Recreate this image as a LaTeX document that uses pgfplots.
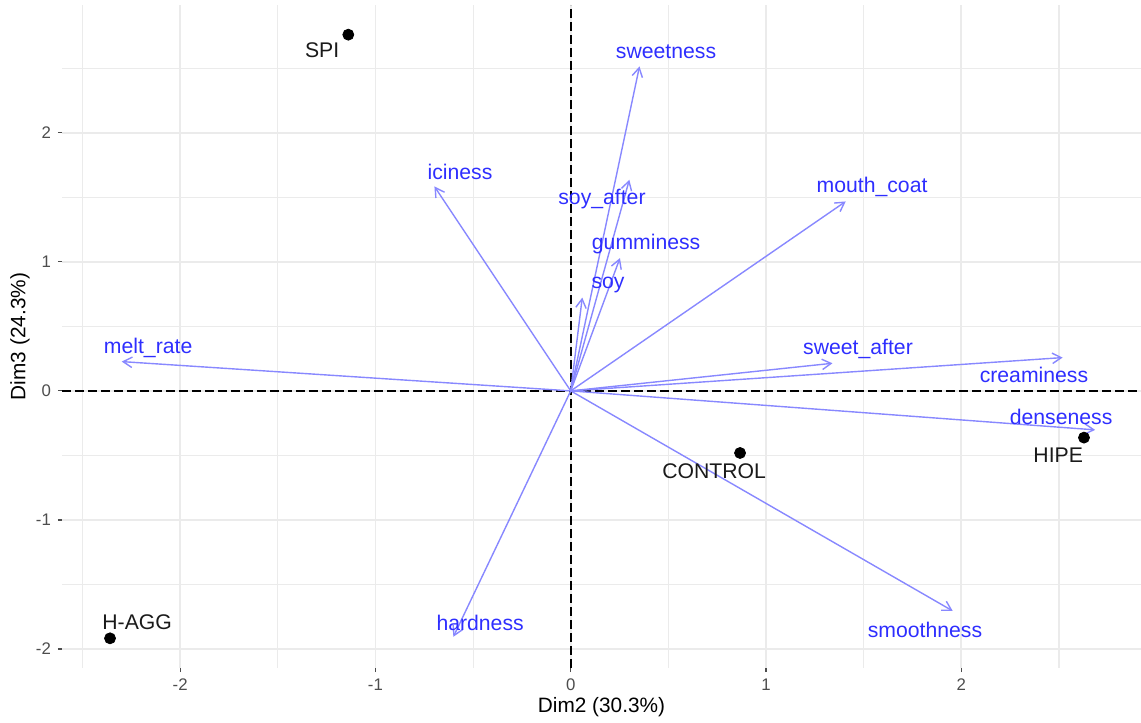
\documentclass[border=0pt]{standalone}
\usepackage{fontspec}
\setmainfont{Liberation Sans}
\usepackage{pgfplots}
\pgfplotsset{compat=1.18}
\usepackage{pgfplotstable}
\usetikzlibrary{arrows.meta}

\definecolor{gridc}{HTML}{EBEBEB}
\definecolor{varline}{HTML}{8888FF}
\definecolor{vartext}{HTML}{2E2EFF}
\definecolor{tickc}{HTML}{4D4D4D}
\definecolor{indtext}{HTML}{1A1A1A}

% individuals: point coordinates, label position, name
\pgfplotstableread{
x y lx ly name
-1.139 2.760 -1.273 2.643 SPI
-2.359 -1.917 -2.220 -1.791 H-AGG
0.867 -0.481 0.734 -0.620 CONTROL
2.628 -0.362 2.496 -0.496 HIPE
}\individuals

% variables: arrow tip, label position, name
\pgfplotstableread{
x y lx ly name
0.352 2.514 0.488 2.628 sweetness
-0.698 1.584 -0.567 1.698 iciness
0.300 1.636 0.160 1.488 {soy\_after}
0.252 1.029 0.386 1.140 gumminess
0.059 0.723 0.191 0.822 soy
1.408 1.468 1.543 1.581 {mouth\_coat}
-2.299 0.227 -2.164 0.333 {melt\_rate}
1.340 0.214 1.471 0.326 {sweet\_after}
2.519 0.258 2.372 0.124 creaminess
2.685 -0.302 2.511 -0.202 denseness
1.956 -1.705 1.814 -1.853 smoothness
-0.601 -1.905 -0.464 -1.798 hardness
}\variables

\begin{document}
\begin{tikzpicture}
\begin{axis}[
  name=ax,
  scale only axis,
  width=539.5pt, height=331.5pt,
  xmin=-2.605, xmax=2.92,
  ymin=-2.147, ymax=2.99,
  xtick={-2,-1,0,1,2},
  ytick={-2,-1,0,1,2},
  minor xtick={-2.5,-1.5,-0.5,0.5,1.5,2.5},
  minor ytick={-1.5,-0.5,0.5,1.5,2.5},
  grid=both,
  major grid style={gridc, line width=0.9pt},
  minor grid style={gridc, line width=0.55pt},
  axis line style={draw=none},
  xtick pos=bottom, ytick pos=left,
  tick align=outside,
  major tick length=2pt,
  minor tick length=0pt,
  tick style={color=tickc, line width=0.6pt},
  /pgf/number format/assume math mode=true,
  ticklabel style={font=\fontsize{8.4}{10}\selectfont, text=tickc},
  xlabel={Dim2 (30.3\%)},
  ylabel={Dim3 (24.3\%)},
  label style={font=\fontsize{10.4}{12}\selectfont, text=black},
  xlabel style={at={(axis description cs:0.5,-0.0588)}, anchor=center},
  ylabel style={at={(axis description cs:-0.0389,0.5)}, anchor=center},
  clip=false,
]
% reference lines through the origin
\addplot[black, line width=0.8pt, dash pattern=on 4.3pt off 2.2pt] coordinates {(-2.605,0) (2.92,0)};
\addplot[black, line width=0.8pt, dash pattern=on 4.3pt off 2.2pt] coordinates {(0,-2.147) (0,2.99)};

% individuals
\addplot[only marks, mark=*, mark size=2.75pt, black] table[x=x, y=y] {\individuals};
\addplot[draw=none, mark=none, nodes near coords, point meta=explicit symbolic,
  every node near coord/.append style={anchor=center, inner sep=0pt,
    font=\fontsize{10.6}{12}\selectfont, text=indtext}]
  table[x=lx, y=ly, meta=name] {\individuals};

% variable arrows
\addplot[varline, line width=0.7pt, mark=none,
  quiver={u=\thisrow{x}, v=\thisrow{y},
    every arrow/.append style={-{Straight Barb[length=4.5pt, width=5.2pt, line width=0.7pt]}}}]
  table[x expr=0, y expr=0] {\variables};
\addplot[draw=none, mark=none, nodes near coords, point meta=explicit symbolic,
  every node near coord/.append style={anchor=center, inner sep=0pt,
    font=\fontsize{10.6}{12}\selectfont, text=vartext}]
  table[x=lx, y=ly, meta=name] {\variables};
\end{axis}
\pgfresetboundingbox
\path[use as bounding box] ([shift={(-31pt,-27.5pt)}]ax.south west) rectangle ([shift={(0pt,2.5pt)}]ax.north east);
\end{tikzpicture}
\end{document}
